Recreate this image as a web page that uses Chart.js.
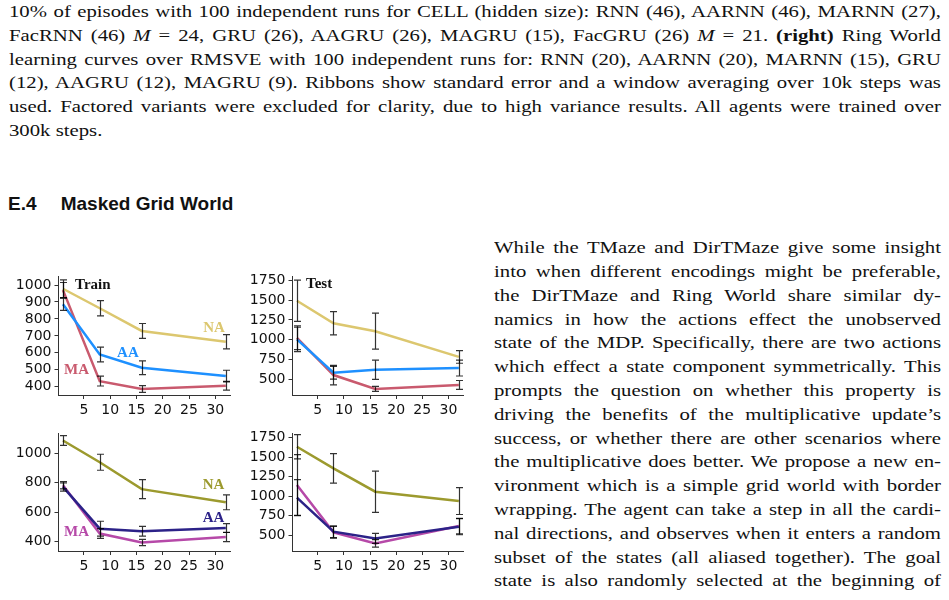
<!DOCTYPE html>
<html>
<head>
<meta charset="utf-8">
<script src="https://cdn.jsdelivr.net/npm/chart.js@4.4.1/dist/chart.umd.min.js"></script>
<style>
    body { margin: 0; background: #fff; width: 949px; height: 600px; overflow: hidden; position: relative; }
    .txt { position: absolute; font-family: 'Liberation Serif', serif; font-size: 17px; line-height: 23.8px; color: #111;
           transform: scaleX(1.22); transform-origin: 0 0; }
    .txt div { text-align: justify; text-align-last: justify; }
    .txt div.last { text-align-last: left; }
    #head { position: absolute; left: 8px; top: 194px; font: bold 19px 'Liberation Sans', sans-serif; line-height: 19px; color: #111; }
    canvas { position: absolute; }
</style>
</head>
<body>

<div class="txt" style="left:9px; top:0px; width:763.9px;">
    <div>10% of episodes with 100 independent runs for CELL (hidden size): RNN (46), AARNN (46), MARNN (27),</div>
    <div>FacRNN (46) <i>M</i> = 24, GRU (26), AAGRU (26), MAGRU (15), FacGRU (26) <i>M</i> = 21. <b>(right)</b> Ring World</div>
    <div>learning curves over RMSVE with 100 independent runs for: RNN (20), AARNN (20), MARNN (15), GRU</div>
    <div>(12), AAGRU (12), MAGRU (9). Ribbons show standard error and a window averaging over 10k steps was</div>
    <div>used. Factored variants were excluded for clarity, due to high variance results. All agents were trained over</div>
    <div class="last">300k steps.</div>
</div>

<div id="head"><span>E.4</span><span style="position:absolute; left:52.7px; white-space:nowrap;">Masked Grid World</span></div>

<div class="txt" style="left:494px; top:236.3px; width:366.4px;">
    <div>While the TMaze and DirTMaze give some insight</div>
    <div>into when different encodings might be preferable,</div>
    <div>the DirTMaze and Ring World share similar dy-</div>
    <div>namics in how the actions effect the unobserved</div>
    <div>state of the MDP. Specifically, there are two actions</div>
    <div>which effect a state component symmetrically. This</div>
    <div>prompts the question on whether this property is</div>
    <div>driving the benefits of the multiplicative update’s</div>
    <div>success, or whether there are other scenarios where</div>
    <div>the multiplicative does better. We propose a new en-</div>
    <div>vironment which is a simple grid world with border</div>
    <div>wrapping. The agent can take a step in all the cardi-</div>
    <div>nal directions, and observes when it enters a random</div>
    <div>subset of the states (all aliased together). The goal</div>
    <div>state is also randomly selected at the beginning of</div>
</div>

<canvas id="rnnTrain" width="240" height="160" style="left:0px; top:265px;"></canvas>
<canvas id="rnnTest" width="240" height="160" style="left:240px; top:265px;"></canvas>
<canvas id="gruTrain" width="240" height="160" style="left:0px; top:422px;"></canvas>
<canvas id="gruTest" width="240" height="160" style="left:240px; top:422px;"></canvas>

<script>
// hidden sizes (x) and tick labels
const sizes = [1, 8, 16, 32];
const xTicks = [5, 10, 15, 20, 25, 30];

// RNN - train
const rnnTrainNA = [978, 863, 729, 665];
const rnnTrainNAErr = [52, 45, 44, 42];
const rnnTrainAA = [886, 590, 512, 463];
const rnnTrainAAErr = [36, 44, 41, 34];
const rnnTrainMA = [970, 433, 386, 406];
const rnnTrainMAErr = [45, 29, 20, 26];
const rnnTrainTicks = [400, 500, 600, 700, 800, 900, 1000];

// RNN - test
const rnnTestNA = [1492, 1208, 1108, 783];
const rnnTestNAErr = [260, 146, 227, 80];
const rnnTestAA = [1004, 583, 621, 642];
const rnnTestAAErr = [154, 81, 121, 100];
const rnnTestMA = [1025, 554, 379, 429];
const rnnTestMAErr = [150, 123, 31, 56];
const rnnTestTicks = [500, 750, 1000, 1250, 1500, 1750];

// GRU - train
const gruTrainNA = [1085, 938, 756, 667];
const gruTrainNAErr = [33, 54, 64, 50];
const gruTrainAA = [771, 489, 471, 493];
const gruTrainAAErr = [28, 50, 33, 30];
const gruTrainMA = [783, 456, 395, 433];
const gruTrainMAErr = [25, 33, 21, 31];
const gruTrainTicks = [400, 600, 800, 1000];

// GRU - test
const gruTestNA = [1634, 1357, 1057, 937];
const gruTestNAErr = [156, 190, 265, 173];
const gruTestAA = [980, 543, 457, 607];
const gruTestAAErr = [231, 75, 64, 103];
const gruTestMA = [1143, 535, 393, 615];
const gruTestMAErr = [391, 75, 49, 100];
const gruTestTicks = [500, 750, 1000, 1250, 1500, 1750];

const rnnColors = { NA: '#dcc76f', AA: '#1e90ff', MA: '#c95a6e' };
const gruColors = { NA: '#9c9a2e', AA: '#2c2288', MA: '#b649a8' };

// error bars drawn through the chart scales
const errorBars = {
    id: 'errorBars',
    afterDatasetsDraw(chart) {
        const { ctx, scales: { x, y } } = chart;
        ctx.save();
        ctx.strokeStyle = 'rgba(0,0,0,0.8)';
        ctx.lineWidth = 1.2;
        chart.data.datasets.forEach(ds => {
            ds.data.forEach((p, i) => {
                const px = Math.round(x.getPixelForValue(p.x)) + 0.5;
                const top = y.getPixelForValue(p.y + ds.err[i]);
                const bot = y.getPixelForValue(p.y - ds.err[i]);
                ctx.beginPath();
                ctx.moveTo(px, top); ctx.lineTo(px, bot);
                ctx.moveTo(px - 3.5, top); ctx.lineTo(px + 3.5, top);
                ctx.moveTo(px - 3.5, bot); ctx.lineTo(px + 3.5, bot);
                ctx.stroke();
            });
        });
        ctx.restore();
    }
};

// text tags (Train / Test / NA / AA / MA)
const tags = {
    id: 'tags',
    afterDraw(chart, args, opts) {
        const { ctx, scales: { x, y } } = chart;
        ctx.save();
        ctx.font = 'bold 15px "Liberation Serif"';
        ctx.textAlign = 'left';
        ctx.textBaseline = 'alphabetic';
        (opts.items || []).forEach(t => {
            ctx.fillStyle = t.color;
            ctx.fillText(t.text, x.getPixelForValue(t.x), y.getPixelForValue(t.y) + 5);
        });
        ctx.restore();
    }
};

function series(label, values, err, color) {
    return {
        label: label,
        data: sizes.map((s, i) => ({ x: s, y: values[i] })),
        err: err,
        borderColor: color,
        borderWidth: 2.5,
        pointRadius: 0,
        tension: 0,
        fill: false
    };
}

function drawChart(id, datasets, yTicks, yRange, yWidth, pad, xHeight, items) {
    const axisGrid = { display: true, drawOnChartArea: false, tickLength: 4, color: '#333', lineWidth: 1 };
    const axisBorder = { display: true, color: '#333', width: 1 };
    const tickFont = { family: 'DejaVu Sans', size: 14 };

    return new Chart(document.getElementById(id).getContext('2d'), {
        type: 'line',
        data: { datasets: datasets },
        options: {
            responsive: false,
            animation: false,
            layout: { padding: { top: pad.top, right: pad.right, left: 0, bottom: 0 } },
            plugins: { legend: { display: false }, tooltip: { enabled: false }, tags: { items: items } },
            scales: {
                x: {
                    type: 'linear', min: 0.15, max: 32.8,
                    afterBuildTicks: s => { s.ticks = xTicks.map(v => ({ value: v })); },
                    afterFit: s => { s.height = xHeight; },
                    grid: axisGrid, border: axisBorder,
                    ticks: { font: tickFont, color: '#111', padding: 3, maxRotation: 0, autoSkip: false, callback: v => String(v) }
                },
                y: {
                    type: 'linear', min: yRange[0], max: yRange[1],
                    afterBuildTicks: s => { s.ticks = yTicks.map(v => ({ value: v })); },
                    afterFit: s => { s.width = yWidth; },
                    grid: axisGrid, border: axisBorder,
                    ticks: { font: tickFont, color: '#111', padding: 3, autoSkip: false, callback: v => String(v) }
                }
            }
        },
        plugins: [errorBars, tags]
    });
}

drawChart('rnnTrain', [
    series('NA', rnnTrainNA, rnnTrainNAErr, rnnColors.NA),
    series('AA', rnnTrainAA, rnnTrainAAErr, rnnColors.AA),
    series('MA', rnnTrainMA, rnnTrainMAErr, rnnColors.MA)
], rnnTrainTicks, [351, 1051], 58.5, { top: 10, right: 10 }, 30, [
    { text: 'Train', x: 3.3, y: 1005, color: '#111' },
    { text: 'NA', x: 27.7, y: 755, color: rnnColors.NA },
    { text: 'AA', x: 11.3, y: 604, color: rnnColors.AA },
    { text: 'MA', x: 1.2, y: 505, color: rnnColors.MA }
]);

drawChart('rnnTest', [
    series('NA', rnnTestNA, rnnTestNAErr, rnnColors.NA),
    series('AA', rnnTestAA, rnnTestAAErr, rnnColors.AA),
    series('MA', rnnTestMA, rnnTestMAErr, rnnColors.MA)
], rnnTestTicks, [302, 1800], 52.5, { top: 10, right: 17 }, 30, [
    { text: 'Test', x: 2.75, y: 1712, color: '#111' }
]);

drawChart('gruTrain', [
    series('NA', gruTrainNA, gruTrainNAErr, gruColors.NA),
    series('AA', gruTrainAA, gruTrainAAErr, gruColors.AA),
    series('MA', gruTrainMA, gruTrainMAErr, gruColors.MA)
], gruTrainTicks, [338, 1133], 58.5, { top: 10, right: 10 }, 31, [
    { text: 'NA', x: 27.6, y: 788, color: gruColors.NA },
    { text: 'AA', x: 27.6, y: 567, color: gruColors.AA },
    { text: 'MA', x: 1.2, y: 475, color: gruColors.MA }
]);

drawChart('gruTest', [
    series('NA', gruTestNA, gruTestNAErr, gruColors.NA),
    series('AA', gruTestAA, gruTestAAErr, gruColors.AA),
    series('MA', gruTestMA, gruTestMAErr, gruColors.MA)
], gruTestTicks, [295, 1806], 52.5, { top: 11, right: 17 }, 31, []);
</script>
</body>
</html>
